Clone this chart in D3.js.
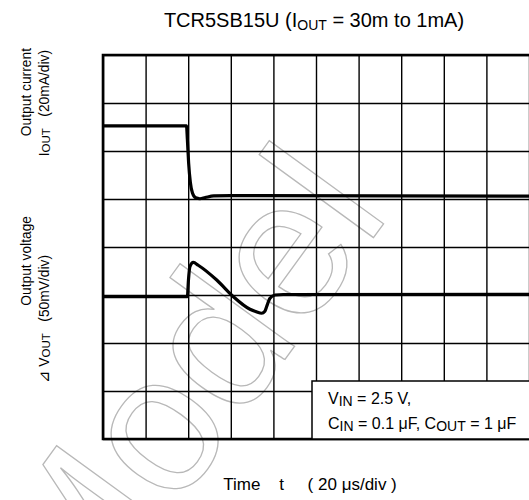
<!DOCTYPE html>
<html><head><meta charset="utf-8">
<script src="https://cdn.jsdelivr.net/npm/d3@7"></script>
<style>body{margin:0;background:#fff} svg text{font-family:"Liberation Sans",Arial,sans-serif;fill:#000}</style>
</head><body><svg id="c" width="529" height="500"></svg>
<script>
// time axis: 10 divisions of 20 µs; vertical: 8 divisions
const timeTicks = [0, 20, 40, 60, 80, 100, 120, 140, 160, 180, 200];
const divTicks = [0, 1, 2, 3, 4, 5, 6, 7, 8];
// Output current trace (time µs, current mA relative to div 5)
const currentT  = [0, 39.2, 39.6, 40.2, 41, 42, 43.5, 45.5, 48, 52, 60, 200];
const currentMA = [30.5, 30.5, 25, 15, 7, 2.5, 0.5, 0.1, 0.6, 1.3, 1.4, 1.2];
// Output voltage deviation trace (time µs, mV relative to div 3)
const voltT  = [0, 39.6, 40.1, 40.8, 42.4, 44.7, 53.4, 61.2, 69, 72, 74.5, 76, 76.8, 78.4, 80.8, 84.6, 200];
const voltMV = [-1.8, -1.8, 15, 29.5, 34, 31, 15.6, -1.8, -14.9, -17.5, -19, -17, -12.2, -3.4, 0, 0.5, 0.7];
const currentZeroDiv = 5, currentPerDiv = 20;
const voltZeroDiv = 3, voltPerDiv = 50;

const svg = d3.select('#c');
const L = 103, R = 529, T = 55, B = 439;
const x = d3.scaleLinear().domain([0, 200]).range([L, R]);
const y = d3.scaleLinear().domain([0, 8]).range([B, T]);

// watermark
const wm = svg.append('g').attr('transform', 'translate(79,643) rotate(-54)');
wm.append('text').text('Model').attr('font-size', 195).attr('x', 0).attr('y', 0)
  .style('fill', 'none').attr('stroke', '#b8b8b8').attr('stroke-width', 1.3);

// grid via axes
const gx = svg.append('g').attr('transform', `translate(0,${B})`)
  .call(d3.axisBottom(x).tickValues(timeTicks).tickSize(-(B - T)).tickFormat(''));
gx.select('.domain').remove();
gx.selectAll('line').attr('stroke', '#000').attr('stroke-width', 1.4);
const gy = svg.append('g').attr('transform', `translate(${L},0)`)
  .call(d3.axisLeft(y).tickValues(divTicks).tickSize(-(R - L)).tickFormat(''));
gy.select('.domain').remove();
gy.selectAll('line').attr('stroke', '#000').attr('stroke-width', 1.4);

// frame
svg.append('path').attr('d', `M${R},${T}H${L}V${B}H${R}`).attr('fill', 'none')
  .attr('stroke', '#000').attr('stroke-width', 2.6);

// traces
const lineC = d3.line().x((d, i) => x(currentT[i])).y(d => y(currentZeroDiv + d / currentPerDiv)).curve(d3.curveMonotoneX);
const lineV = d3.line().x((d, i) => x(voltT[i])).y(d => y(voltZeroDiv + d / voltPerDiv)).curve(d3.curveMonotoneX);
svg.append('path').attr('d', lineC(currentMA)).attr('fill', 'none').attr('stroke', '#000').attr('stroke-width', 3.2).attr('stroke-linejoin', 'round');
svg.append('path').attr('d', lineV(voltMV)).attr('fill', 'none').attr('stroke', '#000').attr('stroke-width', 3.2).attr('stroke-linejoin', 'round');

// condition box
svg.append('rect').attr('x', 312).attr('y', 381).attr('width', 230).attr('height', B - 381)
  .attr('fill', '#fff').attr('stroke', '#000').attr('stroke-width', 1.5);
const t1 = svg.append('text').attr('x', 328).attr('y', 404).attr('font-size', 16);
t1.append('tspan').text('V');
t1.append('tspan').text('IN').attr('font-size', 14).attr('dy', 1.5);
t1.append('tspan').text(' = 2.5 V,').attr('dy', -1.5);
const t2 = svg.append('text').attr('x', 328).attr('y', 429).attr('font-size', 16);
t2.append('tspan').text('C');
t2.append('tspan').text('IN').attr('font-size', 14).attr('dy', 1.5);
t2.append('tspan').text(' = 0.1 μF, C').attr('dy', -1.5);
t2.append('tspan').text('OUT').attr('font-size', 14).attr('dy', 1.5);
t2.append('tspan').text(' = 1 μF').attr('dy', -1.5);

// title
const tt = svg.append('text').attr('x', 314).attr('y', 27).attr('text-anchor', 'middle').attr('font-size', 20);
tt.append('tspan').text('TCR5SB15U (I');
tt.append('tspan').text('OUT').attr('font-size', 14).attr('dy', 3);
tt.append('tspan').text(' = 30m to 1mA)').attr('dy', -3);

// x label
svg.append('text').attr('x', 310).attr('y', 490).attr('text-anchor', 'middle').attr('font-size', 17)
  .style('white-space', 'pre').text('Time    t     ( 20 μs/div )');

// y labels
function ylab(px, py, fs, parts) {
  const t = svg.append('text').attr('transform', `translate(${px},${py}) rotate(-90)`)
    .attr('text-anchor', 'end').attr('font-size', fs).style('white-space', 'pre');
  parts.forEach(p => { const s = t.append('tspan').text(p[0]); if (p[1]) s.attr('font-size', p[1]); if (p[2] !== undefined) s.attr('dy', p[2]); if (p[3]) s.style('font-family', p[3]); });
}
ylab(31, 48, 13.8, [['Output current']]);
ylab(49, 50, 13.8, [['I'], ['OUT', 11.5, 1], ['   (20mA/div)', 13.8, -1]]);
ylab(31, 216, 13.8, [['Output voltage']]);
ylab(49, 255, 13.8, [['⊿', 15, 0, '"DejaVu Sans","Noto Sans CJK JP",sans-serif'], [' V', 13.8, 0], ['OUT', 11.5, 1], ['   (50mV/div)', 13.8, -1]]);
</script></body></html>
